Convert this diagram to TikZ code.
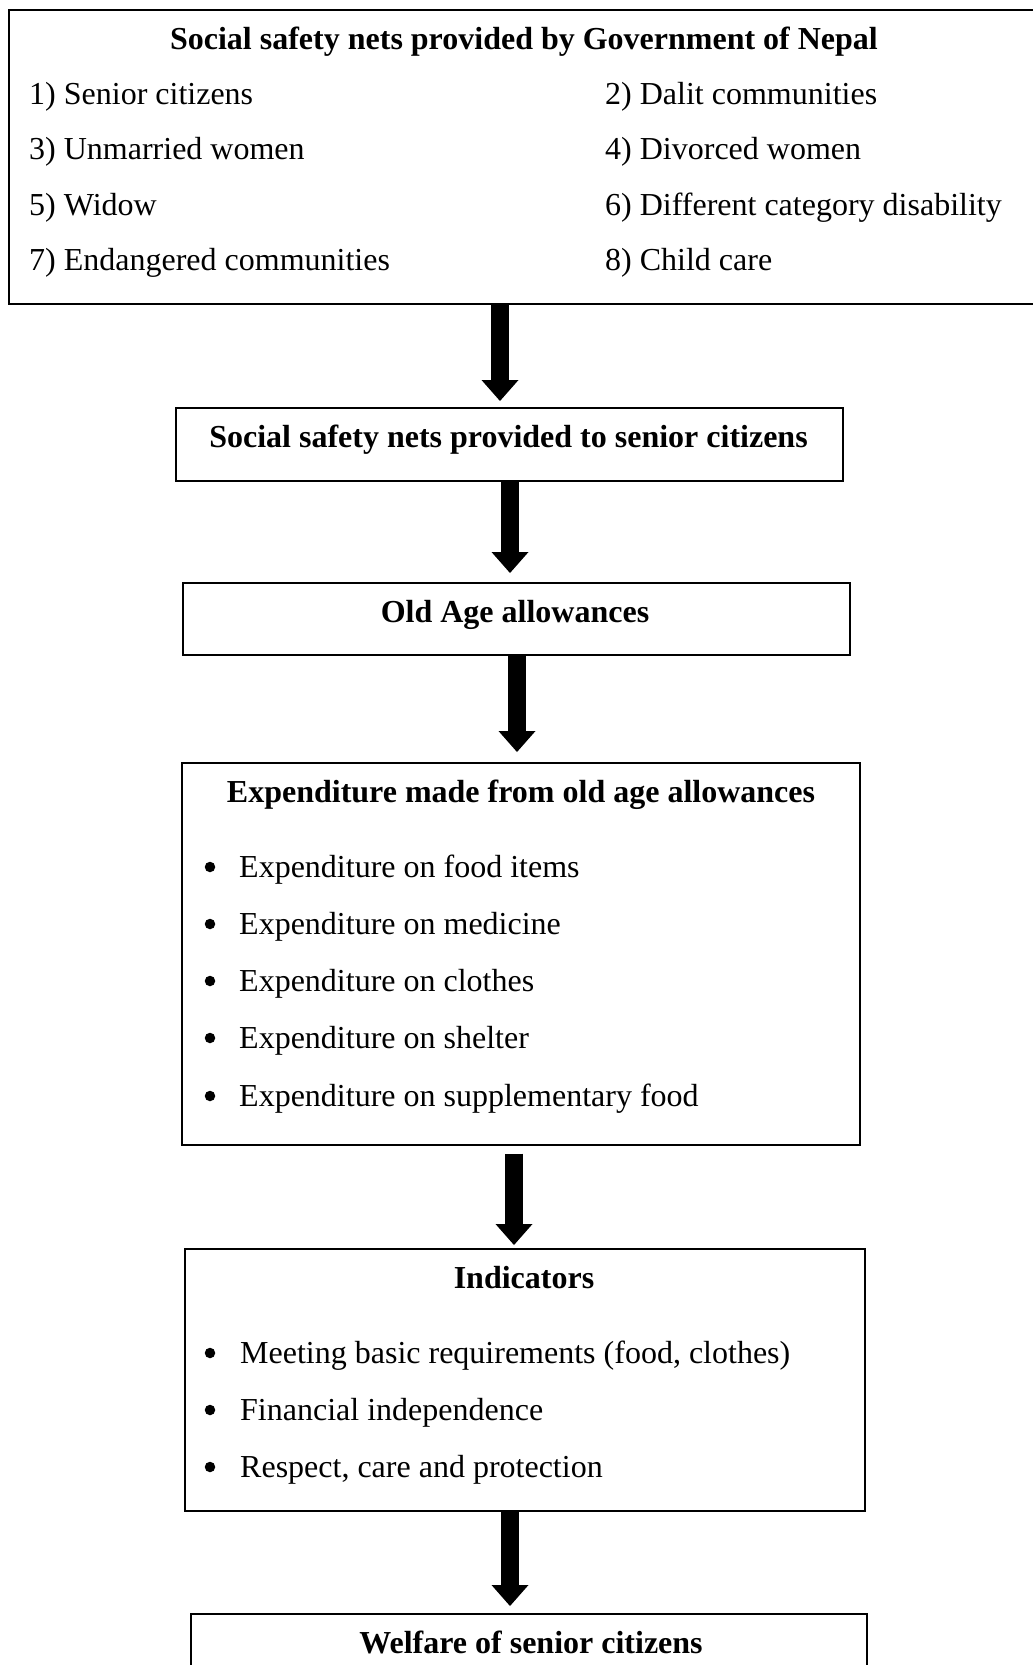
\documentclass[tikz,border=0pt]{standalone}
\usepackage{fontspec}
\setmainfont{Liberation Serif}
\usetikzlibrary{arrows.meta}
\begin{document}
\begin{tikzpicture}[x=1pt,y=-1pt,
  box/.style={draw, line width=1.6pt, inner sep=0pt, anchor=north west},
  txt/.style={inner sep=0pt, font=\fontsize{32}{38}\selectfont},
  ttl/.style={txt, font=\fontsize{32}{38}\selectfont\bfseries, anchor=base},
  itm/.style={txt, anchor=base west},
  dot/.style={circle, fill, inner sep=0pt, minimum size=10.5pt},
  bigarrow/.style={line width=18pt, -{Triangle[width=37pt,length=21pt,line width=0pt]}}]
\useasboundingbox (0,0) rectangle (1033,1665);

% boxes
\node[box, minimum width=1040pt, minimum height=294pt] (top) at (8,9) {};
\node[box, minimum width=667pt, minimum height=73pt] (b2) at (175,407) {};
\node[box, minimum width=667pt, minimum height=72pt] (b3) at (182,582) {};
\node[box, minimum width=678pt, minimum height=382pt] (b4) at (181,762) {};
\node[box, minimum width=680pt, minimum height=262pt] (b5) at (184,1248) {};
\node[box, minimum width=676pt, minimum height=120pt] (b6) at (190,1613) {};

% top box text
\node[ttl] (t0) at (524,49) {Social safety nets provided by Government of Nepal};
\node[itm] (t1) at (29,104) {1) Senior citizens};
\node[itm] (t3) at (29,159) {3) Unmarried women};
\node[itm] (t5) at (29,215) {5) Widow};
\node[itm] (t7) at (29,270) {7) Endangered communities};
\node[itm] (t2) at (605,104) {2) Dalit communities};
\node[itm] (t4) at (605,159) {4) Divorced women};
\node[itm] (t6) at (605,215) {6) Different category disability};
\node[itm] (t8) at (605,270) {8) Child care};

% box 2, 3
\node[ttl] (s2) at (508.5,447) {Social safety nets provided to senior citizens};
\node[ttl] (s3) at (515,622) {Old Age allowances};

% box 4
\node[ttl] (s4) at (521,802) {Expenditure made from old age allowances};
\node[dot] (d41) at (210,867) {};
\node[itm] (e1) at (239,877) {Expenditure on food items};
\node[dot] (d42) at (210,924) {};
\node[itm] (e2) at (239,934) {Expenditure on medicine};
\node[dot] (d43) at (210,981) {};
\node[itm] (e3) at (239,991) {Expenditure on clothes};
\node[dot] (d44) at (210,1038) {};
\node[itm] (e4) at (239,1048) {Expenditure on shelter};
\node[dot] (d45) at (210,1096) {};
\node[itm] (e5) at (239,1106) {Expenditure on supplementary food};

% box 5
\node[ttl] (s5) at (524,1288) {Indicators};
\node[dot] (d51) at (210,1353) {};
\node[itm] (i1) at (240,1363) {Meeting basic requirements (food, clothes)};
\node[dot] (d52) at (210,1410) {};
\node[itm] (i2) at (240,1420) {Financial independence};
\node[dot] (d53) at (210,1467) {};
\node[itm] (i3) at (240,1477) {Respect, care and protection};

% box 6
\node[ttl] (s6) at (531,1653) {Welfare of senior citizens};

% arrows
\coordinate (a1) at (500,0);
\coordinate (a2) at (510,0);
\coordinate (a3) at (517,0);
\coordinate (a4) at (514,0);
\coordinate (a5) at (510,0);
\draw[bigarrow, shorten >=6pt] (top.south -| a1) -- (b2.north -| a1);
\draw[bigarrow, shorten >=9pt] (b2.south -| a2) -- (b3.north -| a2);
\draw[bigarrow, shorten >=10pt] (b3.south -| a3) -- (b4.north -| a3);
\draw[bigarrow, shorten <=8pt, shorten >=3pt] (b4.south -| a4) -- (b5.north -| a4);
\draw[bigarrow, shorten >=7pt] (b5.south -| a5) -- (b6.north -| a5);
\end{tikzpicture}
\end{document}
